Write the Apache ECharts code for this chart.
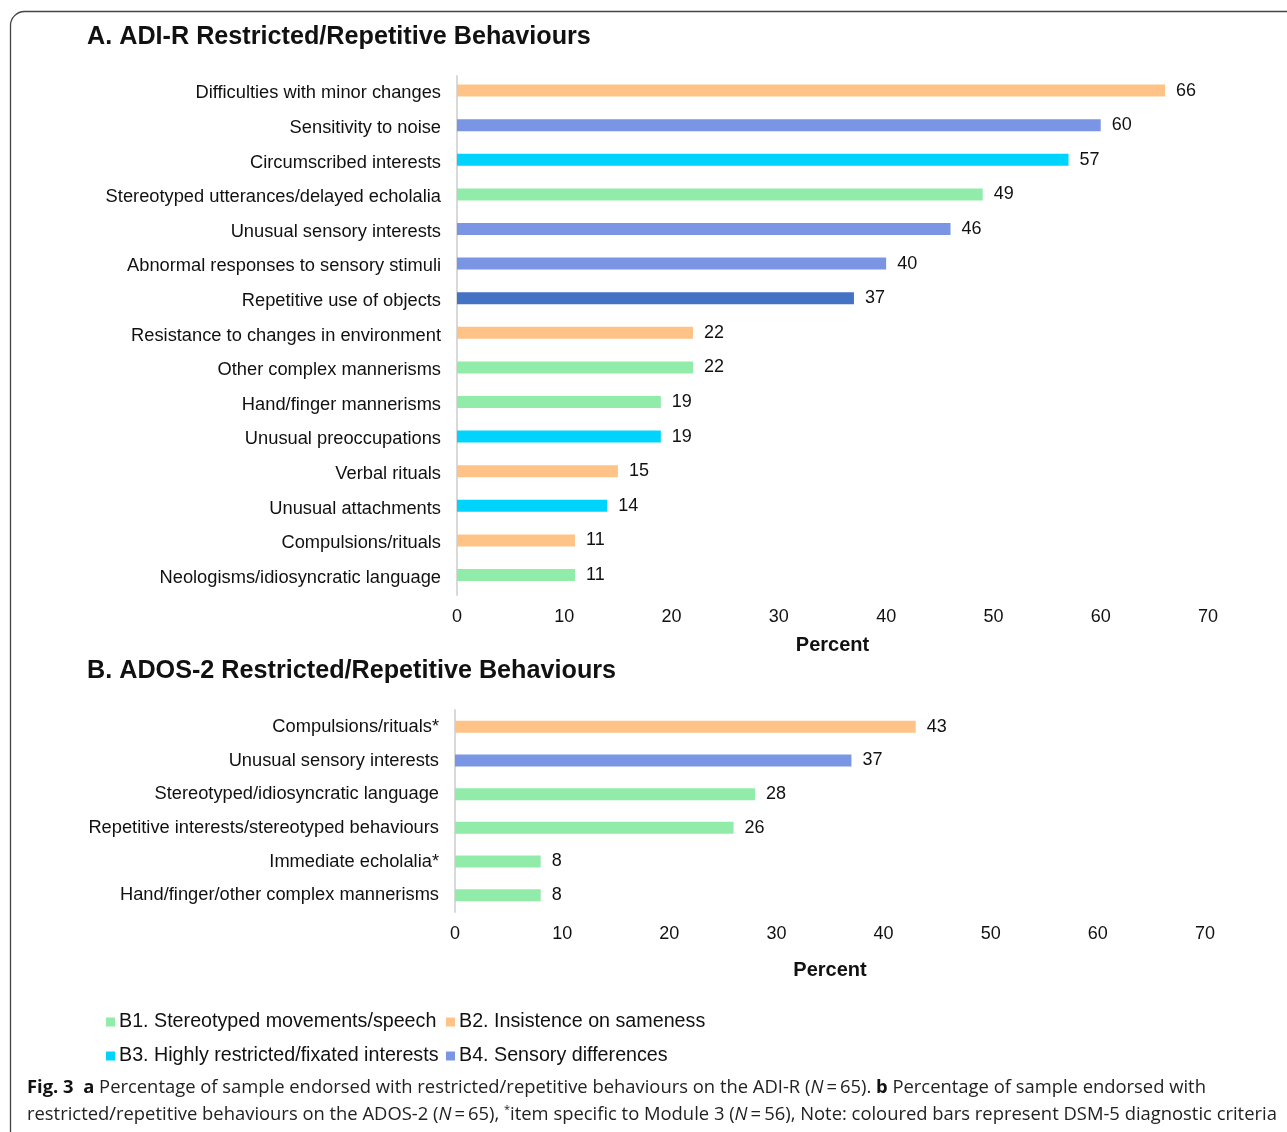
<!DOCTYPE html>
<html>
<head>
<meta charset="utf-8">
<script src="https://cdn.jsdelivr.net/npm/echarts@6/dist/echarts.min.js"></script>
<style>
  html, body { margin: 0; padding: 0; background: #ffffff; }
  #chart { width: 1287px; height: 1132px; }
</style>
</head>
<body>
<div id="chart"></div>
<script>
// ADI-R items (percent of sample endorsed), listed top to bottom
const adirItems = [
  'Difficulties with minor changes',
  'Sensitivity to noise',
  'Circumscribed interests',
  'Stereotyped utterances/delayed echolalia',
  'Unusual sensory interests',
  'Abnormal responses to sensory stimuli',
  'Repetitive use of objects',
  'Resistance to changes in environment',
  'Other complex mannerisms',
  'Hand/finger mannerisms',
  'Unusual preoccupations',
  'Verbal rituals',
  'Unusual attachments',
  'Compulsions/rituals',
  'Neologisms/idiosyncratic language'
];
const adirValues = [66, 60, 57, 49, 46, 40, 37, 22, 22, 19, 19, 15, 14, 11, 11];
const adirGroups = ['B2', 'B4', 'B3', 'B1', 'B4', 'B4', 'B1', 'B2', 'B1', 'B1', 'B3', 'B2', 'B3', 'B2', 'B1'];

// ADOS-2 items
const adosItems = [
  'Compulsions/rituals*',
  'Unusual sensory interests',
  'Stereotyped/idiosyncratic language',
  'Repetitive interests/stereotyped behaviours',
  'Immediate echolalia*',
  'Hand/finger/other complex mannerisms'
];
const adosValues = [43, 37, 28, 26, 8, 8];
const adosGroups = ['B2', 'B4', 'B1', 'B1', 'B1', 'B1'];

// DSM-5 criteria shown in the legend
const criteriaCodes = ['B1', 'B2', 'B3', 'B4'];
const criteriaNames = [
  'B1. Stereotyped movements/speech',
  'B2. Insistence on sameness',
  'B3. Highly restricted/fixated interests',
  'B4. Sensory differences'
];
const percentTicks = [0, 10, 20, 30, 40, 50, 60, 70];

// ---- styling ----
const groupColors = { B1: '#91EBA9', B2: '#FFC388', B3: '#00D4FC', B4: '#7A95E3' };
const accentColors = { 'Repetitive use of objects': '#4472C4' };
const FONT = '"Liberation Sans", Arial, sans-serif';
const CAPTION_FONT = '"Open Sans", "Noto Sans", sans-serif';

function barData(items, values, groups) {
  return values.map((v, i) => ({
    value: v,
    itemStyle: { color: accentColors[items[i]] || groupColors[groups[i]] }
  }));
}

function xAxisFor(gridIndex, nameGap) {
  return {
    gridIndex,
    type: 'value',
    min: percentTicks[0],
    max: percentTicks[percentTicks.length - 1],
    interval: percentTicks[1] - percentTicks[0],
    axisLine: { show: false },
    axisTick: { show: false },
    splitLine: { show: false },
    axisLabel: { color: '#111', fontSize: 18, fontFamily: FONT, margin: 13 },
    name: 'Percent',
    nameLocation: 'middle',
    nameGap,
    nameTextStyle: { color: '#111', fontSize: 20, fontWeight: 'bold', fontFamily: FONT }
  };
}

function yAxisFor(gridIndex, items) {
  return {
    gridIndex,
    type: 'category',
    data: items,
    inverse: true,
    axisLine: { show: true, lineStyle: { color: '#d9d9d9', width: 2 } },
    axisTick: { show: false },
    axisLabel: { color: '#111', fontSize: 18.3, fontFamily: FONT, margin: 16, padding: [0, 0, 5, 0] }
  };
}

const valueLabel = {
  show: true,
  position: 'right',
  distance: 11,
  color: '#111',
  fontSize: 18,
  fontFamily: FONT
};

// empty series that only feed the legend swatches
const legendSeries = criteriaCodes.map((c, i) => ({
  name: criteriaNames[i],
  type: 'bar',
  xAxisIndex: 0,
  yAxisIndex: 0,
  data: [],
  itemStyle: { color: groupColors[c] }
}));

const legendPos = [
  { left: 106, top: 1012 },
  { left: 446, top: 1012 },
  { left: 106, top: 1046 },
  { left: 446, top: 1046 }
];
const legends = criteriaNames.map((n, i) => ({
  data: [n],
  left: legendPos[i].left,
  top: legendPos[i].top,
  icon: 'rect',
  itemWidth: 9,
  itemHeight: 9,
  itemGap: 0,
  padding: 0,
  selectedMode: false,
  textStyle: { color: '#111', fontSize: 19.7, fontFamily: FONT, padding: [0, 0, 0, -1] }
}));

const chart = echarts.init(document.getElementById('chart'), null, { renderer: 'canvas' });

chart.setOption({
  backgroundColor: '#ffffff',
  animation: false,
  title: [
    {
      text: 'A. ADI-R Restricted/Repetitive Behaviours',
      left: 87, top: 25,
      padding: 0,
      textStyle: { color: '#111', fontSize: 25.2, fontWeight: 'bold', fontFamily: FONT }
    },
    {
      text: 'B. ADOS-2 Restricted/Repetitive Behaviours',
      left: 87, top: 659,
      padding: 0,
      textStyle: { color: '#111', fontSize: 25.2, fontWeight: 'bold', fontFamily: FONT }
    }
  ],
  legend: legends,
  grid: [
    { left: 457, right: 79, top: 76, height: 519, containLabel: false },
    { left: 455, right: 82, top: 710, height: 202, containLabel: false }
  ],
  xAxis: [xAxisFor(0, 40), xAxisFor(1, 48)],
  yAxis: [yAxisFor(0, adirItems), yAxisFor(1, adosItems)],
  series: [
    {
      name: 'ADI-R',
      type: 'bar',
      xAxisIndex: 0,
      yAxisIndex: 0,
      barWidth: 12,
      data: barData(adirItems, adirValues, adirGroups),
      label: valueLabel
    },
    {
      name: 'ADOS-2',
      type: 'bar',
      xAxisIndex: 1,
      yAxisIndex: 1,
      barWidth: 12,
      data: barData(adosItems, adosValues, adosGroups),
      label: valueLabel
    }
  ].concat(legendSeries),
  graphic: [
    {
      // figure frame with rounded top-left corner
      type: 'rect',
      silent: true,
      shape: { x: 10.5, y: 11.5, width: 1500, height: 1300, r: 14 },
      style: { fill: 'none', stroke: '#444', lineWidth: 1.3 }
    },
    {
      type: 'text',
      left: 27,
      top: 1079,
      style: {
        text: '{b|Fig. 3}  {b|a} Percentage of sample endorsed with restricted/repetitive behaviours on the ADI-R ({i|N}\u2009=\u200965). {b|b} Percentage of sample endorsed with',
        font: '18.4px ' + CAPTION_FONT,
        fill: '#222',
        rich: {
          b: { fontWeight: 'bold', fontSize: 18.4, fontFamily: CAPTION_FONT, fill: '#111' },
          i: { fontStyle: 'italic', fontSize: 18.4, fontFamily: CAPTION_FONT, fill: '#222' }
        }
      }
    },
    {
      type: 'text',
      left: 27,
      top: 1104,
      style: {
        text: 'restricted/repetitive behaviours on the ADOS-2 ({i|N}\u2009=\u200965), {s|*}item specific to Module 3 ({i|N}\u2009=\u200956), Note: coloured bars represent DSM-5 diagnostic criteria',
        font: '18.4px ' + CAPTION_FONT,
        fill: '#222',
        rich: {
          i: { fontStyle: 'italic', fontSize: 18.4, fontFamily: CAPTION_FONT, fill: '#222' },
          s: { fontSize: 11, fontFamily: CAPTION_FONT, fill: '#222', verticalAlign: 'top', padding: [0, 0, 10, 0] }
        }
      }
    }
  ]
});
</script>
</body>
</html>
